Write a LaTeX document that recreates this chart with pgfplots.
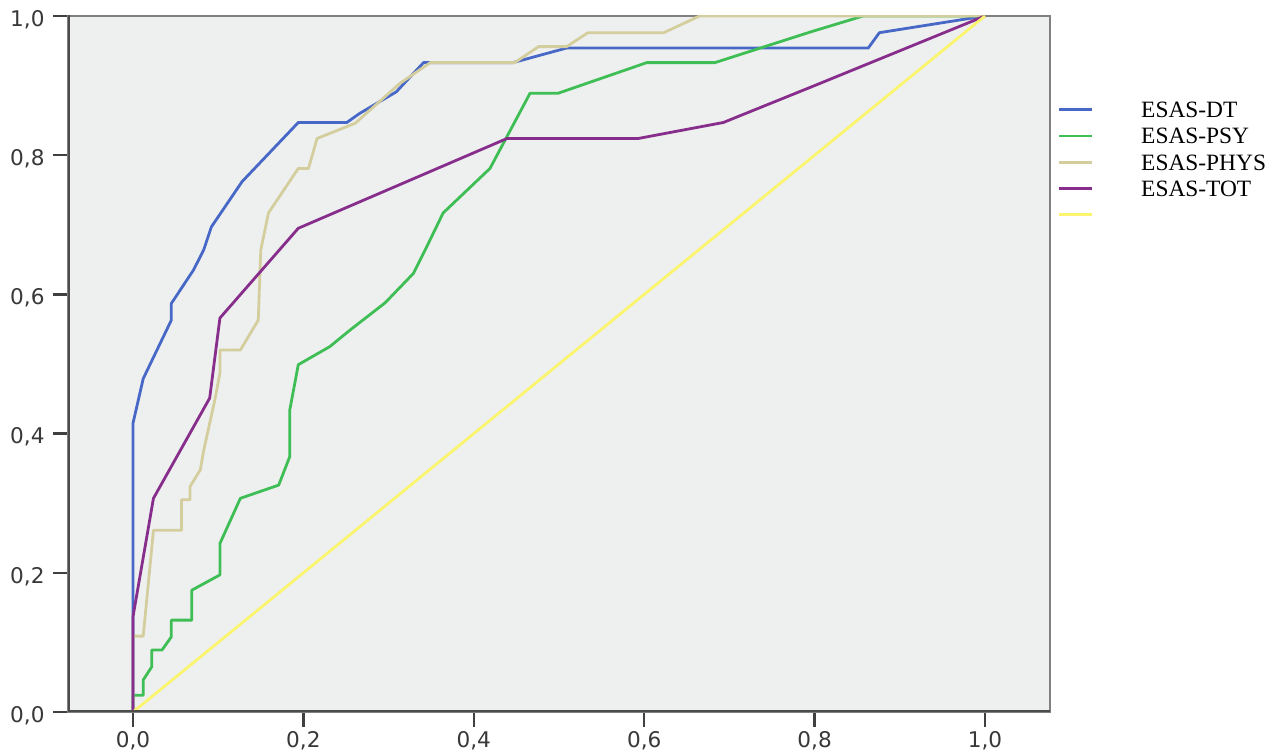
\documentclass[border=0pt]{standalone}
\usepackage{pgfplots}
\pgfplotsset{compat=1.18}
\usepackage{fontspec}
\setmainfont{Liberation Serif}
\newfontfamily\ticksans{DejaVu Sans}

\definecolor{bgc}{RGB}{238,240,239}
\definecolor{cdt}{RGB}{72,104,200}
\definecolor{cpsy}{RGB}{62,190,85}
\definecolor{cphys}{RGB}{212,206,158}
\definecolor{ctot}{RGB}{135,45,140}
\definecolor{cref}{RGB}{250,244,110}

\begin{document}
\begin{tikzpicture}
% 1 px of the reference = 0.5pt
\useasboundingbox (-34pt,-21pt) rectangle (602.5pt,356pt);
\begin{axis}[
  scale only axis, width=491pt, height=348pt,
  xmin=-0.0763, xmax=1.0763, ymin=0, ymax=1,
  axis background/.style={fill=bgc},
  axis line style={draw=black!50, line width=1pt},
  xtick={0,0.2,0.4,0.6,0.8,1}, ytick={0,0.2,0.4,0.6,0.8,1},
  tick align=outside, tick pos=left,
  major tick length=7.5pt,
  tick style={draw=black!75, line width=1.2pt},
  xticklabel style={yshift=-2pt, inner sep=0pt, anchor=north},
  yticklabel style={xshift=-4pt, yshift=-1.8pt, inner sep=0pt, anchor=east},
  ticklabel style={font=\ticksans\fontsize{10.8}{12}\selectfont, text=black!78},
  /pgf/number format/fixed, /pgf/number format/fixed zerofill,
  /pgf/number format/precision=1, /pgf/number format/use comma,
  /pgf/number format/assume math mode=true,
  legend style={at={(1.00713,0.8774)}, anchor=north west, draw=none, fill=none,
    inner sep=0pt, row sep=5.125pt, column sep=24pt,
    font=\fontsize{11.7}{13}\selectfont,
    nodes={inner sep=0pt, text height=8pt, text depth=0pt}},
  legend cell align=left,
  legend image code/.code={\draw[#1] (0pt,0pt) -- (16.5pt,0pt);},
  every axis plot/.append style={line width=1.4pt, line join=round},
]
% ESAS-DT
\addplot[cdt] coordinates {
  (0,0) (0,0.415) (0.012,0.479) (0.045,0.563) (0.045,0.587) (0.071,0.635)
  (0.083,0.664) (0.092,0.697) (0.128,0.762) (0.194,0.847) (0.251,0.847)
  (0.266,0.860) (0.309,0.891) (0.341,0.933) (0.352,0.933) (0.446,0.933)
  (0.509,0.954) (0.863,0.954) (0.876,0.976) (1,1)};
\addlegendentry{ESAS-DT}
% ESAS-PSY
\addplot[cpsy] coordinates {
  (0,0) (0,0.024) (0.012,0.024) (0.012,0.046) (0.022,0.065) (0.022,0.089)
  (0.034,0.089) (0.045,0.108) (0.045,0.132) (0.069,0.132) (0.069,0.175)
  (0.102,0.197) (0.102,0.242) (0.126,0.307) (0.171,0.326) (0.184,0.367)
  (0.184,0.434) (0.194,0.499) (0.231,0.525) (0.255,0.549) (0.296,0.588)
  (0.329,0.630) (0.343,0.664) (0.364,0.717) (0.419,0.781) (0.466,0.889)
  (0.499,0.889) (0.603,0.933) (0.683,0.933) (0.795,0.977) (0.857,1) (1,1)};
\addlegendentry{ESAS-PSY}
% ESAS-PHYS
\addplot[cphys] coordinates {
  (0,0) (0,0.109) (0.012,0.109) (0.024,0.261) (0.057,0.261) (0.057,0.305)
  (0.067,0.305) (0.067,0.324) (0.079,0.348) (0.083,0.376) (0.096,0.448)
  (0.102,0.487) (0.102,0.520) (0.126,0.520) (0.147,0.563) (0.150,0.664)
  (0.159,0.717) (0.194,0.781) (0.206,0.781) (0.216,0.824) (0.261,0.846)
  (0.313,0.903) (0.349,0.933) (0.448,0.933) (0.476,0.956) (0.509,0.956)
  (0.534,0.976) (0.623,0.976) (0.665,1) (1,1)};
\addlegendentry{ESAS-PHYS}
% ESAS-TOT
\addplot[ctot] coordinates {
  (0,0) (0,0.137) (0.024,0.307) (0.090,0.451) (0.102,0.566) (0.194,0.695)
  (0.439,0.824) (0.593,0.824) (0.693,0.847) (0.705,0.853) (0.8,0.900) (1,1)};
\addlegendentry{ESAS-TOT}
% reference line
\addplot[cref] coordinates {(0,0) (1,1)};
\addlegendentry{\phantom{E}}
\draw[black!70, line width=1.5pt, line cap=rect]
  (rel axis cs:0,1) -- (rel axis cs:0,0) -- (rel axis cs:1,0);
\end{axis}
\end{tikzpicture}
\end{document}
